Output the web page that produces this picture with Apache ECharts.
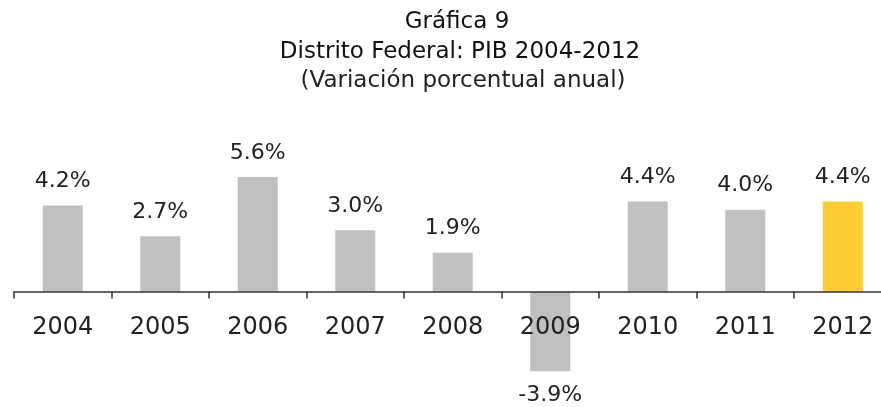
<!DOCTYPE html>
<html>
<head>
<meta charset="utf-8">
<script src="https://cdn.jsdelivr.net/npm/echarts@6/dist/echarts.min.js"></script>
<style>html,body{margin:0;padding:0;background:#fff}#c{width:881px;height:407px}</style>
</head>
<body>
<div id="c"></div>
<script>
const years = ['2004','2005','2006','2007','2008','2009','2010','2011','2012'];
const pibVar = [4.2, 2.7, 5.6, 3.0, 1.9, -3.9, 4.4, 4.0, 4.4];
const highlightYear = '2012';
const titleLines = ['Gráfica 9', 'Distrito Federal: PIB 2004-2012', '(Variación porcentual anual)'];

const FONT = 'DejaVu Sans';
const Y_MIN = -5, Y_MAX = 7;
const GRID_TOP = 148.3, GRID_BOTTOM = 13.2, H = 407;
const plotH = H - GRID_TOP - GRID_BOTTOM;
// distance from grid bottom edge up to the zero line
const zeroOffset = plotH * (0 - Y_MIN) / (Y_MAX - Y_MIN);

const chart = echarts.init(document.getElementById('c'), null, {renderer: 'canvas'});
chart.setOption({
  animation: false,
  backgroundColor: '#fff',
  title: [
    {text: titleLines[0], left: 452, top: 6, textAlign: 'center',
     textStyle: {fontFamily: FONT, fontSize: 23, fontWeight: 'normal', color: '#111'}},
    {text: titleLines[1], left: 455, top: 36, textAlign: 'center',
     textStyle: {fontFamily: FONT, fontSize: 23, fontWeight: 'normal', color: '#111'}},
    {text: titleLines[2], left: 458, top: 65, textAlign: 'center',
     textStyle: {fontFamily: FONT, fontSize: 23, fontWeight: 'normal', color: '#222'}}
  ],
  grid: {left: 14, width: 877.5, top: GRID_TOP, bottom: GRID_BOTTOM, containLabel: false, outerBoundsMode: 'none'},
  xAxis: {
    type: 'category',
    data: years,
    position: 'bottom',
    offset: -zeroOffset,
    z: 5,
    axisLine: {onZero: false, lineStyle: {color: '#333', width: 1.5}},
    axisTick: {show: true, length: 7, alignWithLabel: false, lineStyle: {color: '#333', width: 1.5}},
    axisLabel: {margin: 24, fontFamily: FONT, fontSize: 24, color: '#222'},
    splitLine: {show: false}
  },
  yAxis: {
    type: 'value', min: Y_MIN, max: Y_MAX, interval: 1,
    show: false
  },
  series: [{
    type: 'bar',
    barWidth: 40,
    data: pibVar.map((v, i) => ({
      value: v,
      itemStyle: {color: years[i] === highlightYear ? '#ffcc33' : '#c0c0c0'},
      label: {position: v < 0 ? 'bottom' : 'top'}
    })),
    label: {
      show: true,
      distance: 13,
      fontFamily: FONT, fontSize: 22, color: '#222',
      formatter: p => p.value.toFixed(1) + '%'
    }
  }]
});
</script>
</body>
</html>
